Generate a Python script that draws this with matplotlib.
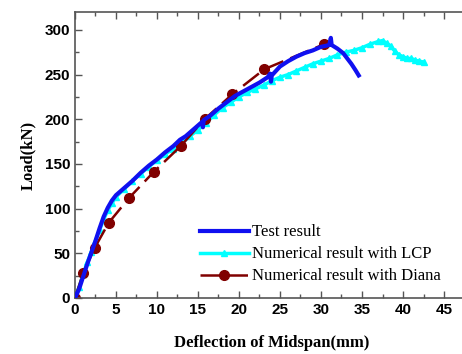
import matplotlib.pyplot as plt
from matplotlib.ticker import MultipleLocator

# Test result (blue)
test_x = [0, 0.5, 1, 1.5, 2, 2.5, 3, 3.5, 4, 4.5, 5, 5.5, 6, 7, 8, 9, 10, 11, 12, 12.8,
          13.5, 14.5, 15.5, 15.6, 15.7, 16.5, 17.5, 18.5, 19.5, 20.5, 21.5, 22.5, 23.5,
          23.8, 23.9, 24.0, 25, 26, 27, 28, 29, 30, 31, 31.2, 31.3, 32, 32.7, 33.2, 33.7,
          34.2, 34.6]
test_y = [0, 10, 24, 38, 51, 64, 78, 91, 101, 109, 115, 119, 123, 131, 140, 148, 155, 163,
          170, 177, 181, 189, 197, 191, 199, 204, 212, 219, 226, 231, 236, 241, 247, 251,
          242, 249, 259, 265, 270, 274, 277, 281, 283, 291, 283, 279, 274, 268, 262, 255,
          249]

# Numerical result with LCP (cyan)
lcp_x = [0, 0.5, 1, 1.5, 2, 2.5, 3, 3.5, 4, 4.5, 5, 6, 7, 8, 9, 10, 11, 12, 13, 14, 15,
         16, 17, 18, 19, 20, 21, 22, 23, 24, 25, 26, 27, 28, 29, 30, 31, 32, 33, 34, 35,
         36, 37, 37.5, 38, 38.5, 39, 39.5, 40, 40.5, 41, 41.5, 42, 42.5]
lcp_y = [0, 12, 27, 40, 52, 64, 76, 88, 98, 106, 113, 122, 131, 139, 147, 154, 161, 167,
         173, 181, 188, 196, 205, 213, 219, 225, 230, 234, 238, 243, 247, 250, 254, 258,
         262, 265, 268, 272, 275, 277, 280, 284, 287, 288, 285, 282, 276, 272, 270, 268,
         268, 266, 265, 264]

# Numerical result with Diana (dark red)
diana_x = [0, 1.0, 2.4, 4.1, 6.6, 9.6, 12.9, 15.8, 19.2, 23.1, 30.4]
diana_y = [0, 28, 56, 84, 112, 141, 170, 200, 228, 256, 284]

fig = plt.figure(figsize=(4.62, 3.54), dpi=100)
ax = fig.add_axes([0.1623, 0.1582, 0.852, 0.808])

ax.plot(test_x, test_y, color='#1010f0', lw=3, label='Test result', zorder=3)
ax.plot(lcp_x, lcp_y, color='#00ffff', lw=2.5, marker='^', ms=4.5,
        label='Numerical result with LCP', zorder=2)
ax.plot(diana_x, diana_y, color='#800000', lw=1.8, dashes=(8, 3), marker='o', ms=7,
        label='Numerical result with Diana', zorder=2)

ax.set_xlim(0, 48)
ax.set_ylim(0, 320)
ax.xaxis.set_major_locator(MultipleLocator(5))
ax.xaxis.set_minor_locator(MultipleLocator(2.5))
ax.yaxis.set_major_locator(MultipleLocator(50))
ax.yaxis.set_minor_locator(MultipleLocator(25))
ax.tick_params(which='both', direction='in', top=True, right=True, colors='#555555',
               labelcolor='black', width=1)
ax.tick_params(which='major', length=5)
ax.tick_params(which='minor', length=3)
for sp in ax.spines.values():
    sp.set_color('#555555')
    sp.set_linewidth(1.2)
for lab in ax.get_xticklabels() + ax.get_yticklabels():
    lab.set_fontfamily('Liberation Sans')
    lab.set_fontweight('bold')
    lab.set_fontsize(11)

ax.set_xlabel('Deflection of Midspan(mm)', fontfamily='Liberation Serif',
              fontweight='bold', fontsize=12, labelpad=13)
ax.set_ylabel('Load(kN)', fontfamily='Liberation Serif', fontweight='bold',
              fontsize=12, labelpad=6)

leg = ax.legend(loc='lower right', bbox_to_anchor=(0.967, -0.005), frameon=False,
                prop={'family': 'Liberation Serif', 'size': 12}, handlelength=2.9,
                labelspacing=0.36, handletextpad=0.2)

fig.savefig('out.png', dpi=100)
